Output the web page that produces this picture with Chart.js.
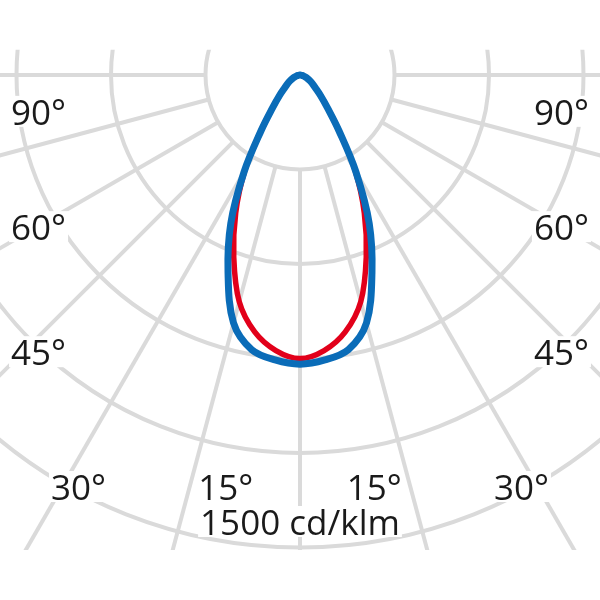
<!DOCTYPE html>
<html>
<head>
<meta charset="utf-8">
<script src="https://cdn.jsdelivr.net/npm/chart.js@4.4.1/dist/chart.umd.min.js"></script>
<style>
  html, body { margin: 0; padding: 0; background: #fff; }
  #wrap { width: 600px; height: 600px; }
</style>
</head>
<body>
<div id="wrap"><canvas id="ldcChart" width="600" height="600"></canvas></div>
<script>
// gamma angles (deg from nadir), same on both sides
const angles = [0, 5, 10, 15, 20, 25, 30, 35, 40, 45, 50, 55, 60, 65, 70, 75, 80, 85, 90];
// C0-C180 plane (blue), cd/klm
const planeC0 = [918, 908, 885, 815, 668, 520, 355, 215, 135, 92, 64, 48, 36, 26, 18, 11, 6, 3, 0];
// C90-C270 plane (red), cd/klm
const planeC90 = [900, 878, 828, 745, 615, 483, 350, 215, 135, 92, 64, 48, 36, 26, 18, 11, 6, 3, 0];

// grid
const rings = [300, 600, 900, 1200, 1500];
const spokes = [0, 15, 30, 45, 60, 75, 90];
const angleLabels = ["90°", "60°", "45°", "30°", "15°"];
const unitLabel = "1500 cd/klm";

const PX_PER_UNIT = 0.315;   // 300 cd/klm per ring ~ 94.5 px
const FONT = "35px 'Open Sans', sans-serif";

// polar (gamma, I) -> x/y in cd/klm, nadir pointing down
function toXY(vals) {
    const pts = [];
    for (let i = angles.length - 1; i >= 0; i--) {
        const a = -angles[i] * Math.PI / 180;
        pts.push({ x: vals[i] * Math.sin(a), y: -vals[i] * Math.cos(a) });
    }
    for (let i = 1; i < angles.length; i++) {
        const a = angles[i] * Math.PI / 180;
        pts.push({ x: vals[i] * Math.sin(a), y: -vals[i] * Math.cos(a) });
    }
    return pts;
}

// where the angle labels sit, in cd/klm units (left side; right is mirrored)
const labelSpots = [
    { x: 830, y: -117 },   // 90
    { x: 830, y: -483 },   // 60
    { x: 830, y: -880 },   // 45
    { x: 703, y: -1308 },  // 30
    { x: 236, y: -1308 }   // 15
];

function drawLabel(ctx, text, px, py) {
    ctx.font = FONT;
    const m = ctx.measureText(text);
    const asc = m.actualBoundingBoxAscent, desc = m.actualBoundingBoxDescent;
    ctx.fillStyle = "#fff";
    ctx.fillRect(px - m.width / 2 - 2, py - asc / 2 - 3, m.width + 4, asc + desc + 5);
    ctx.fillStyle = "#1a1a1a";
    ctx.fillText(text, px, py + asc / 2);
}

const polarGrid = {
    id: "polarGrid",
    beforeDatasetsDraw(chart) {
        const { ctx, chartArea, scales: { x, y } } = chart;
        const cx = x.getPixelForValue(0), cy = y.getPixelForValue(0);
        const unit = x.getPixelForValue(1) - cx;
        const top = y.getPixelForValue(80), bottom = y.getPixelForValue(-1508);

        ctx.save();
        ctx.beginPath();
        ctx.rect(chartArea.left, top, chartArea.right - chartArea.left, bottom - top);
        ctx.clip();
        ctx.strokeStyle = "#dadada";
        ctx.lineWidth = 4;
        rings.forEach(r => {
            ctx.beginPath();
            ctx.arc(cx, cy, r * unit, 0, Math.PI * 2);
            ctx.stroke();
        });
        const r0 = rings[0] * unit, r1 = 2200 * unit;
        spokes.forEach(a => {
            [-1, 1].forEach(side => {
                const rad = a * Math.PI / 180;
                const dx = side * Math.sin(rad), dy = Math.cos(rad);
                ctx.beginPath();
                ctx.moveTo(cx + dx * r0, cy + dy * r0);
                ctx.lineTo(cx + dx * r1, cy + dy * r1);
                ctx.stroke();
            });
        });
        ctx.restore();

        // ---------- LABELS ----------
        ctx.save();
        ctx.textAlign = "center";
        ctx.textBaseline = "alphabetic";
        angleLabels.forEach((txt, i) => {
            const s = labelSpots[i];
            drawLabel(ctx, txt, x.getPixelForValue(-s.x), y.getPixelForValue(s.y));
            drawLabel(ctx, txt, x.getPixelForValue(s.x), y.getPixelForValue(s.y));
        });
        drawLabel(ctx, unitLabel, x.getPixelForValue(0), y.getPixelForValue(-1419));
        ctx.restore();
    }
};

new Chart(document.getElementById("ldcChart"), {
    type: "scatter",
    data: {
        datasets: [
            {
                label: "C0 - C180",
                data: toXY(planeC0),
                showLine: true,
                borderColor: "#0a6cb8",
                borderWidth: 7,
                pointRadius: 0,
                tension: 0.35,
                borderJoinStyle: "round",
                borderCapStyle: "round",
                fill: false
            },
            {
                label: "C90 - C270",
                data: toXY(planeC90),
                showLine: true,
                borderColor: "#e2001a",
                borderWidth: 5.5,
                pointRadius: 0,
                tension: 0.35,
                borderJoinStyle: "round",
                borderCapStyle: "round",
                fill: false
            }
        ]
    },
    options: {
        responsive: false,
        animation: false,
        layout: { padding: 0 },
        scales: {
            x: { type: "linear", display: false, min: -300 / PX_PER_UNIT, max: 300 / PX_PER_UNIT },
            y: { type: "linear", display: false, min: -525 / PX_PER_UNIT, max: 75 / PX_PER_UNIT }
        },
        plugins: {
            legend: { display: false },
            tooltip: { enabled: false }
        }
    },
    plugins: [polarGrid]
});
</script>
</body>
</html>
